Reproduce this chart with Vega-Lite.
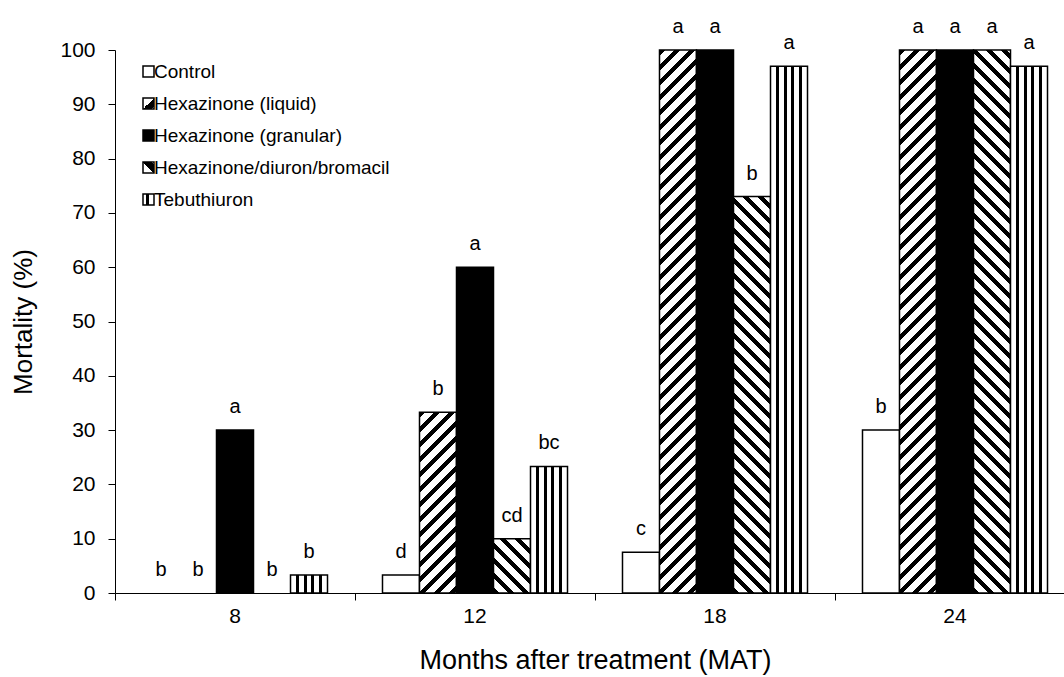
{
  "$schema": "https://vega.github.io/schema/vega-lite/v6.json",
  "width": 949,
  "height": 543,
  "autosize": {"type": "none"},
  "padding": {"left": 115, "top": 50, "right": 0, "bottom": 84},
  "background": "white",
  "config": {
    "view": {"stroke": null},
    "font": "Liberation Sans",
    "axis": {
      "domainColor": "black",
      "tickColor": "black",
      "labelColor": "black",
      "titleColor": "black",
      "labelFont": "Liberation Sans",
      "titleFont": "Liberation Sans",
      "titleFontWeight": "normal",
      "grid": false
    }
  },
  "params": [
    {
      "name": "hatch",
      "value": [
        {"offset":0,"color":"#000"},{"offset":0.01,"color":"#000"},{"offset":0.01,"color":"#fff"},{"offset":0.025,"color":"#fff"},
        {"offset":0.025,"color":"#000"},{"offset":0.035,"color":"#000"},{"offset":0.035,"color":"#fff"},{"offset":0.05,"color":"#fff"},
        {"offset":0.05,"color":"#000"},{"offset":0.06,"color":"#000"},{"offset":0.06,"color":"#fff"},{"offset":0.075,"color":"#fff"},
        {"offset":0.075,"color":"#000"},{"offset":0.085,"color":"#000"},{"offset":0.085,"color":"#fff"},{"offset":0.1,"color":"#fff"},
        {"offset":0.1,"color":"#000"},{"offset":0.11,"color":"#000"},{"offset":0.11,"color":"#fff"},{"offset":0.125,"color":"#fff"},
        {"offset":0.125,"color":"#000"},{"offset":0.135,"color":"#000"},{"offset":0.135,"color":"#fff"},{"offset":0.15,"color":"#fff"},
        {"offset":0.15,"color":"#000"},{"offset":0.16,"color":"#000"},{"offset":0.16,"color":"#fff"},{"offset":0.175,"color":"#fff"},
        {"offset":0.175,"color":"#000"},{"offset":0.185,"color":"#000"},{"offset":0.185,"color":"#fff"},{"offset":0.2,"color":"#fff"},
        {"offset":0.2,"color":"#000"},{"offset":0.21,"color":"#000"},{"offset":0.21,"color":"#fff"},{"offset":0.225,"color":"#fff"},
        {"offset":0.225,"color":"#000"},{"offset":0.235,"color":"#000"},{"offset":0.235,"color":"#fff"},{"offset":0.25,"color":"#fff"},
        {"offset":0.25,"color":"#000"},{"offset":0.26,"color":"#000"},{"offset":0.26,"color":"#fff"},{"offset":0.275,"color":"#fff"},
        {"offset":0.275,"color":"#000"},{"offset":0.285,"color":"#000"},{"offset":0.285,"color":"#fff"},{"offset":0.3,"color":"#fff"},
        {"offset":0.3,"color":"#000"},{"offset":0.31,"color":"#000"},{"offset":0.31,"color":"#fff"},{"offset":0.325,"color":"#fff"},
        {"offset":0.325,"color":"#000"},{"offset":0.335,"color":"#000"},{"offset":0.335,"color":"#fff"},{"offset":0.35,"color":"#fff"},
        {"offset":0.35,"color":"#000"},{"offset":0.36,"color":"#000"},{"offset":0.36,"color":"#fff"},{"offset":0.375,"color":"#fff"},
        {"offset":0.375,"color":"#000"},{"offset":0.385,"color":"#000"},{"offset":0.385,"color":"#fff"},{"offset":0.4,"color":"#fff"},
        {"offset":0.4,"color":"#000"},{"offset":0.41,"color":"#000"},{"offset":0.41,"color":"#fff"},{"offset":0.425,"color":"#fff"},
        {"offset":0.425,"color":"#000"},{"offset":0.435,"color":"#000"},{"offset":0.435,"color":"#fff"},{"offset":0.45,"color":"#fff"},
        {"offset":0.45,"color":"#000"},{"offset":0.46,"color":"#000"},{"offset":0.46,"color":"#fff"},{"offset":0.475,"color":"#fff"},
        {"offset":0.475,"color":"#000"},{"offset":0.485,"color":"#000"},{"offset":0.485,"color":"#fff"},{"offset":0.5,"color":"#fff"},
        {"offset":0.5,"color":"#000"},{"offset":0.51,"color":"#000"},{"offset":0.51,"color":"#fff"},{"offset":0.525,"color":"#fff"},
        {"offset":0.525,"color":"#000"},{"offset":0.535,"color":"#000"},{"offset":0.535,"color":"#fff"},{"offset":0.55,"color":"#fff"},
        {"offset":0.55,"color":"#000"},{"offset":0.56,"color":"#000"},{"offset":0.56,"color":"#fff"},{"offset":0.575,"color":"#fff"},
        {"offset":0.575,"color":"#000"},{"offset":0.585,"color":"#000"},{"offset":0.585,"color":"#fff"},{"offset":0.6,"color":"#fff"},
        {"offset":0.6,"color":"#000"},{"offset":0.61,"color":"#000"},{"offset":0.61,"color":"#fff"},{"offset":0.625,"color":"#fff"},
        {"offset":0.625,"color":"#000"},{"offset":0.635,"color":"#000"},{"offset":0.635,"color":"#fff"},{"offset":0.65,"color":"#fff"},
        {"offset":0.65,"color":"#000"},{"offset":0.66,"color":"#000"},{"offset":0.66,"color":"#fff"},{"offset":0.675,"color":"#fff"},
        {"offset":0.675,"color":"#000"},{"offset":0.685,"color":"#000"},{"offset":0.685,"color":"#fff"},{"offset":0.7,"color":"#fff"},
        {"offset":0.7,"color":"#000"},{"offset":0.71,"color":"#000"},{"offset":0.71,"color":"#fff"},{"offset":0.725,"color":"#fff"},
        {"offset":0.725,"color":"#000"},{"offset":0.735,"color":"#000"},{"offset":0.735,"color":"#fff"},{"offset":0.75,"color":"#fff"},
        {"offset":0.75,"color":"#000"},{"offset":0.76,"color":"#000"},{"offset":0.76,"color":"#fff"},{"offset":0.775,"color":"#fff"},
        {"offset":0.775,"color":"#000"},{"offset":0.785,"color":"#000"},{"offset":0.785,"color":"#fff"},{"offset":0.8,"color":"#fff"},
        {"offset":0.8,"color":"#000"},{"offset":0.81,"color":"#000"},{"offset":0.81,"color":"#fff"},{"offset":0.825,"color":"#fff"},
        {"offset":0.825,"color":"#000"},{"offset":0.835,"color":"#000"},{"offset":0.835,"color":"#fff"},{"offset":0.85,"color":"#fff"},
        {"offset":0.85,"color":"#000"},{"offset":0.86,"color":"#000"},{"offset":0.86,"color":"#fff"},{"offset":0.875,"color":"#fff"},
        {"offset":0.875,"color":"#000"},{"offset":0.885,"color":"#000"},{"offset":0.885,"color":"#fff"},{"offset":0.9,"color":"#fff"},
        {"offset":0.9,"color":"#000"},{"offset":0.91,"color":"#000"},{"offset":0.91,"color":"#fff"},{"offset":0.925,"color":"#fff"},
        {"offset":0.925,"color":"#000"},{"offset":0.935,"color":"#000"},{"offset":0.935,"color":"#fff"},{"offset":0.95,"color":"#fff"},
        {"offset":0.95,"color":"#000"},{"offset":0.96,"color":"#000"},{"offset":0.96,"color":"#fff"},{"offset":0.975,"color":"#fff"},
        {"offset":0.975,"color":"#000"},{"offset":0.985,"color":"#000"},{"offset":0.985,"color":"#fff"},{"offset":1,"color":"#fff"}
      ]
    },
    {
      "name": "tebGrad",
      "value": {
        "gradient": "linear", "x1": 0, "y1": 0, "x2": 1, "y2": 0,
        "stops": [
          {"offset":0,"color":"#fff"},{"offset":0.162,"color":"#fff"},{"offset":0.162,"color":"#000"},{"offset":0.238,"color":"#000"},
          {"offset":0.238,"color":"#fff"},{"offset":0.362,"color":"#fff"},{"offset":0.362,"color":"#000"},{"offset":0.438,"color":"#000"},
          {"offset":0.438,"color":"#fff"},{"offset":0.562,"color":"#fff"},{"offset":0.562,"color":"#000"},{"offset":0.638,"color":"#000"},
          {"offset":0.638,"color":"#fff"},{"offset":0.762,"color":"#fff"},{"offset":0.762,"color":"#000"},{"offset":0.838,"color":"#000"},
          {"offset":0.838,"color":"#fff"},{"offset":1,"color":"#fff"}
        ]
      }
    },
    {
      "name": "legLiquid",
      "value": {
        "gradient": "linear", "x1": 0, "y1": 0, "x2": 1, "y2": 1,
        "stops": [
          {"offset":0,"color":"#fff"},{"offset":0.5,"color":"#fff"},{"offset":0.5,"color":"#000"},{"offset":0.9,"color":"#000"},{"offset":0.9,"color":"#fff"},{"offset":1,"color":"#fff"}
        ]
      }
    },
    {
      "name": "legHDB",
      "value": {
        "gradient": "linear", "x1": 0, "y1": 1, "x2": 1, "y2": 0.001,
        "stops": [
          {"offset":0,"color":"#fff"},{"offset":0.5,"color":"#fff"},{"offset":0.5,"color":"#000"},{"offset":0.9,"color":"#000"},{"offset":0.9,"color":"#fff"},{"offset":1,"color":"#fff"}
        ]
      }
    },
    {
      "name": "legTeb",
      "value": {
        "gradient": "linear", "x1": 0, "y1": 0, "x2": 1, "y2": 0,
        "stops": [
          {"offset":0,"color":"#fff"},{"offset":0.3,"color":"#fff"},{"offset":0.3,"color":"#000"},{"offset":0.58,"color":"#000"},{"offset":0.58,"color":"#fff"},{"offset":1,"color":"#fff"}
        ]
      }
    }
  ],
  "data": {
    "values": [
      {"month": 8, "series": "Control", "value": 0, "letter": "b"},
      {"month": 8, "series": "Hexazinone (liquid)", "value": 0, "letter": "b"},
      {"month": 8, "series": "Hexazinone (granular)", "value": 30, "letter": "a"},
      {"month": 8, "series": "Hexazinone/diuron/bromacil", "value": 0, "letter": "b"},
      {"month": 8, "series": "Tebuthiuron", "value": 3.3, "letter": "b"},
      {"month": 12, "series": "Control", "value": 3.3, "letter": "d"},
      {"month": 12, "series": "Hexazinone (liquid)", "value": 33.3, "letter": "b"},
      {"month": 12, "series": "Hexazinone (granular)", "value": 60, "letter": "a"},
      {"month": 12, "series": "Hexazinone/diuron/bromacil", "value": 10, "letter": "cd"},
      {"month": 12, "series": "Tebuthiuron", "value": 23.3, "letter": "bc"},
      {"month": 18, "series": "Control", "value": 7.5, "letter": "c"},
      {"month": 18, "series": "Hexazinone (liquid)", "value": 100, "letter": "a"},
      {"month": 18, "series": "Hexazinone (granular)", "value": 100, "letter": "a"},
      {"month": 18, "series": "Hexazinone/diuron/bromacil", "value": 73, "letter": "b"},
      {"month": 18, "series": "Tebuthiuron", "value": 97, "letter": "a"},
      {"month": 24, "series": "Control", "value": 30, "letter": "b"},
      {"month": 24, "series": "Hexazinone (liquid)", "value": 100, "letter": "a"},
      {"month": 24, "series": "Hexazinone (granular)", "value": 100, "letter": "a"},
      {"month": 24, "series": "Hexazinone/diuron/bromacil", "value": 100, "letter": "a"},
      {"month": 24, "series": "Tebuthiuron", "value": 97, "letter": "a"}
    ]
  },
  "encoding": {
    "x": {
      "field": "month",
      "type": "ordinal",
      "scale": {"range": [0, 960], "paddingInner": 0, "paddingOuter": 0},
      "axis": {
        "title": "Months after treatment (MAT)",
        "labelAngle": 0,
        "bandPosition": 0,
        "tickSize": 7,
        "labelFontSize": 21,
        "labelPadding": 5,
        "titleFontSize": 27,
        "titlePadding": 21
      }
    },
    "xOffset": {
      "field": "series",
      "type": "nominal",
      "sort": ["Control", "Hexazinone (liquid)", "Hexazinone (granular)", "Hexazinone/diuron/bromacil", "Tebuthiuron"],
      "scale": {"paddingInner": 0, "paddingOuter": 0.743}
    },
    "y": {
      "field": "value",
      "type": "quantitative",
      "scale": {"domain": [0, 100], "nice": false},
      "axis": {
        "title": "Mortality (%)",
        "values": [0, 10, 20, 30, 40, 50, 60, 70, 80, 90, 100],
        "tickSize": 7,
        "labelFontSize": 21,
        "labelPadding": 13,
        "titleFontSize": 26,
        "titlePadding": 23
      }
    }
  },
  "layer": [
    {
      "transform": [{"filter": "datum.value > 0"}],
      "mark": {"type": "bar", "stroke": "black", "strokeWidth": 1.5},
      "encoding": {
        "fill": {
          "field": "series",
          "type": "nominal",
          "scale": {
            "domain": ["Control", "Hexazinone (liquid)", "Hexazinone (granular)", "Hexazinone/diuron/bromacil", "Tebuthiuron"],
            "range": ["white", {"expr": "legLiquid"}, "black", {"expr": "legHDB"}, {"expr": "legTeb"}]
          },
          "legend": {
            "title": null,
            "orient": "none",
            "legendX": 24,
            "legendY": 12,
            "symbolType": "square",
            "symbolSize": 121,
            "symbolStrokeColor": "black",
            "symbolStrokeWidth": 1.5,
            "labelFont": "Liberation Sans",
            "labelFontSize": 19,
            "labelColor": "black",
            "labelOffset": -4,
            "labelLimit": 400,
            "rowPadding": 12
          },
          "condition": [
            {
              "test": "datum.series === 'Hexazinone (liquid)'",
              "value": {"expr": "{gradient: 'linear', x1: 0, y1: 0, x2: 600 * bandwidth('xOffset') / (pow(bandwidth('xOffset'), 2) + pow(scale('y', 0) - scale('y', datum.value), 2)), y2: 600 * (scale('y', 0) - scale('y', datum.value)) / (pow(bandwidth('xOffset'), 2) + pow(scale('y', 0) - scale('y', datum.value), 2)), stops: hatch}"}
            },
            {
              "test": "datum.series === 'Hexazinone/diuron/bromacil'",
              "value": {"expr": "{gradient: 'linear', x1: 0, y1: 1, x2: 600 * bandwidth('xOffset') / (pow(bandwidth('xOffset'), 2) + pow(scale('y', 0) - scale('y', datum.value), 2)), y2: 1 - 600 * (scale('y', 0) - scale('y', datum.value)) / (pow(bandwidth('xOffset'), 2) + pow(scale('y', 0) - scale('y', datum.value), 2)), stops: hatch}"}
            },
            {
              "test": "datum.series === 'Tebuthiuron'",
              "value": {"expr": "tebGrad"}
            }
          ]
        }
      }
    },
    {
      "mark": {"type": "text", "baseline": "alphabetic", "dy": -17, "fontSize": 20, "font": "Liberation Sans", "color": "black"},
      "encoding": {
        "text": {"field": "letter"}
      }
    }
  ]
}
